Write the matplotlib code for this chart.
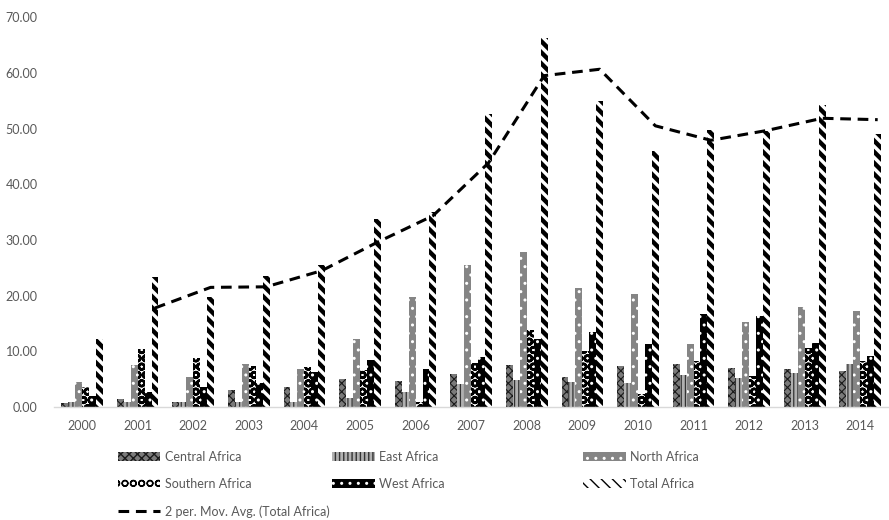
import matplotlib
matplotlib.use("Agg")
import matplotlib.pyplot as plt
import numpy as np
import pandas as pd

years = list(range(2000, 2015))
central = [0.8, 1.4, 0.9, 3.0, 3.7, 5.0, 4.7, 5.9, 7.5, 5.4, 7.3, 7.8, 7.1, 6.8, 6.5]
east = [1.0, 0.9, 0.9, 1.0, 1.0, 1.7, 2.8, 4.1, 4.8, 4.6, 4.4, 5.7, 5.3, 6.2, 7.7]
north = [4.5, 7.5, 5.4, 7.7, 6.8, 12.2, 19.7, 25.6, 27.8, 21.4, 20.4, 11.3, 15.3, 18.0, 17.2]
southern = [3.6, 10.5, 8.8, 7.4, 7.2, 6.6, 1.0, 8.0, 13.9, 10.0, 2.3, 8.3, 5.6, 10.6, 8.3]
west = [2.0, 2.8, 3.6, 4.3, 6.3, 8.4, 6.9, 9.0, 12.3, 13.5, 11.4, 16.7, 16.3, 11.5, 9.2]
total = [12.3, 23.3, 19.7, 23.5, 25.5, 33.7, 35.0, 52.7, 66.3, 55.0, 46.0, 49.8, 49.5, 54.2, 49.0]

# name, values, face, hatch colour, hatch, hatch linewidth
series = [
    ("Central Africa", central, "#7a7a7a", "#1a1a1a", "xxxx", 0.8),
    ("East Africa", east, "#b0b0b0", "#333333", "||||", 0.9),
    ("North Africa", north, "#858585", "white", "..", 1.0),
    ("Southern Africa", southern, "white", "black", "OO", 1.8),
    ("West Africa", west, "black", "white", "..", 1.0),
    ("Total Africa", total, "white", "black", "\\\\\\", 3.2),
]

plt.rcParams["font.family"] = ["Lato", "DejaVu Sans"]
grey = "#595959"

fig = plt.figure(figsize=(8.89, 5.20), dpi=100)
ax = fig.add_axes([0.061, 0.217, 0.938, 0.750])

x = np.arange(len(years))
w = 0.125
handles = {}
for i, (name, vals, fc, hc, hatch, hlw) in enumerate(series):
    with plt.rc_context({"hatch.linewidth": hlw}):
        bars = ax.bar(x + (i - 2.5) * w, vals, w, color=fc, edgecolor=hc,
                      hatch=hatch, linewidth=0, label=name)
    for p in bars:
        if hasattr(p, "set_hatch_linewidth"):
            p.set_hatch_linewidth(hlw)
    handles[name] = bars

# 2-period moving average of the total, drawn at the total bars
ma = pd.Series(total).rolling(2).mean()
line, = ax.plot(x + 2.5 * w, ma, color="black", lw=2.2, ls=(0, (3.5, 2.2)),
                label="2 per. Mov. Avg. (Total Africa)")

ax.set_xlim(-0.5, len(years) - 0.5)
ax.set_ylim(0, 70)
ax.set_yticks(np.arange(0, 71, 10))
ax.set_yticklabels([f"{v:.2f}" for v in range(0, 71, 10)])
ax.set_xticks(x)
ax.set_xticklabels([str(y) for y in years])
ax.tick_params(axis="both", length=0, labelsize=9, colors=grey, pad=9)
ax.tick_params(axis="y", pad=12)
for s in ("top", "right", "left"):
    ax.spines[s].set_visible(False)
ax.spines["bottom"].set_color("#d9d9d9")
ax.spines["bottom"].set_linewidth(1)

leg_kw = dict(loc="upper left", frameon=False, fontsize=9, labelcolor=grey,
              handlelength=3.4, handleheight=0.65, handletextpad=0.35,
              labelspacing=1.2, borderpad=0, borderaxespad=0)
cols = [
    (118, ["Central Africa", "Southern Africa"], True),
    (332, ["East Africa", "West Africa"], False),
    (583, ["North Africa", "Total Africa"], False),
]
for px, names, with_ma in cols:
    hs = [handles[n] for n in names]
    ls = list(names)
    if with_ma:
        hs.append(line)
        ls.append(line.get_label())
    fig.legend(hs, ls, bbox_to_anchor=(px / 889, 1 - 451 / 520), **leg_kw)

fig.savefig("out.png", dpi=100)
